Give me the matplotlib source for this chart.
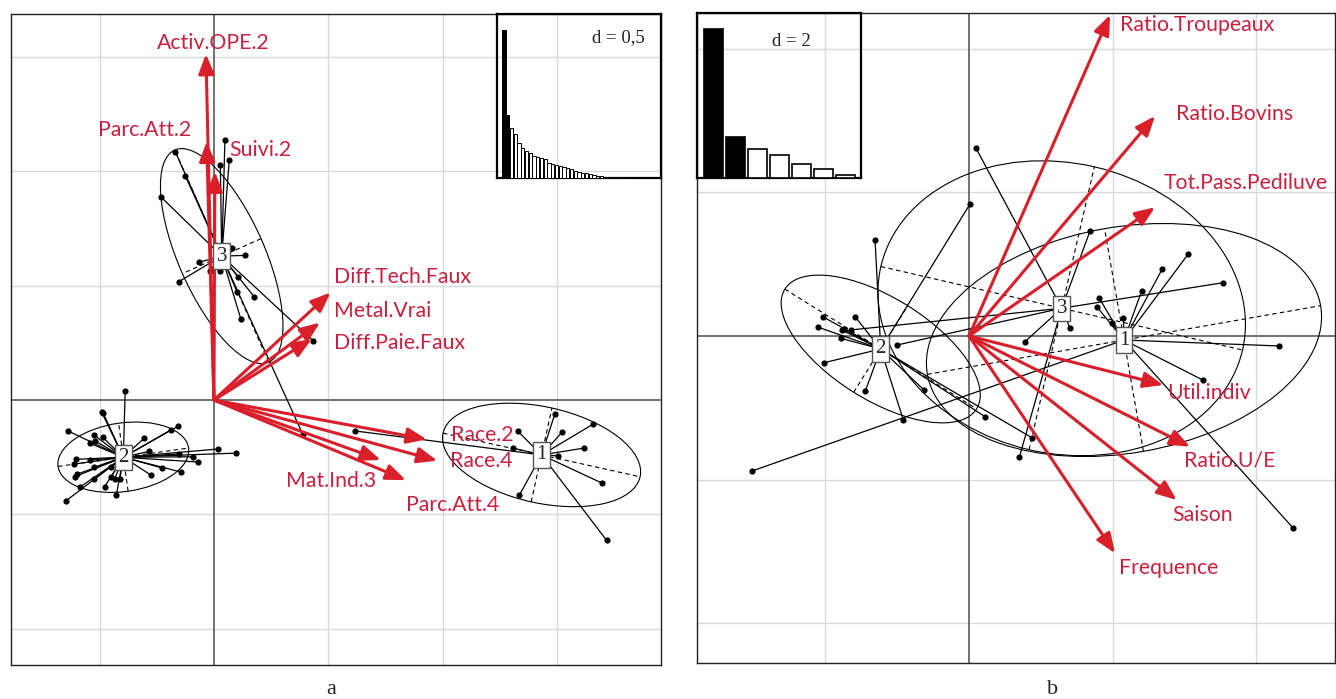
import numpy as np
import matplotlib
matplotlib.use('Agg')
import matplotlib.pyplot as plt
from matplotlib.patches import Ellipse
from matplotlib.collections import LineCollection

# ---------------- DATA : panel a ----------------
a_var_names = ["Activ.OPE.2", "Parc.Att.2", "Suivi.2", "Diff.Tech.Faux", "Metal.Vrai",
               "Diff.Paie.Faux", "Race.2", "Race.4", "Mat.Ind.3", "Parc.Att.4"]
a_var_x = [-0.035, -0.032, 0.004, 0.510, 0.463, 0.428, 0.930, 0.976, 0.729, 0.839]
a_var_y = [1.512, 1.129, 0.998, 0.470, 0.338, 0.267, -0.172, -0.265, -0.262, -0.350]

a_class_labels = ["1", "2", "3"]
a_class_x = [1.432, -0.396, 0.034]
a_class_y = [-0.240, -0.250, 0.629]
# ellipse: semi-axes and angle (deg)
a_ell_a = [0.441, 0.288, 0.507]
a_ell_b = [0.210, 0.150, 0.188]
a_ell_ang = [-12.5, 8.0, 113.9]

a_pts_x = [
    # class 1
    1.490, 1.327, 1.522, 1.658, 1.618, 1.308, 1.505, 1.696, 1.334, 1.716, 0.616,
    # class 2
    -0.388, -0.490, -0.484, -0.638, -0.524, -0.519, -0.542, -0.486, -0.305, -0.189,
    -0.156, -0.283, 0.019, 0.097, -0.152, -0.090, -0.070, -0.226, -0.143, -0.274,
    -0.603, -0.612, -0.542, -0.524, -0.608, -0.600, -0.523, -0.587, -0.646, -0.478,
    -0.449, -0.434, -0.411, -0.427, -0.449,
    # class 3
    -0.169, -0.125, -0.230, -0.154, -0.066, 0.048, 0.067, 0.028, 0.080, 0.137,
    0.026, -0.017, 0.105, 0.102, 0.176, 0.118, 0.434, 0.388]
a_pts_y = [
    -0.061, -0.135, -0.140, -0.105, -0.210, -0.210, -0.244, -0.363, -0.417, -0.613, -0.135,
    0.039, -0.054, -0.057, -0.135, -0.153, -0.179, -0.189, -0.163, -0.167, -0.131,
    -0.114, -0.224, -0.214, -0.232, -0.236, -0.248, -0.271, -0.297, -0.315, -0.329,
    -0.259, -0.280, -0.262, -0.294, -0.335, -0.325, -0.345, -0.382, -0.440, -0.379,
    -0.335, -0.345, -0.345, -0.417, -0.294,
    1.085, 0.979, 0.886, 0.517, 0.602, 1.136, 1.048, 1.027, 0.664, 0.632,
    0.564, 0.565, 0.538, 0.471, 0.451, 0.353, 0.258, -0.149]
a_pts_class = [0] * 11 + [1] * 35 + [2] * 18

a_eigen = [1.48, 0.63, 0.503, 0.443, 0.353, 0.303, 0.27, 0.253, 0.22, 0.21,
           0.203, 0.193, 0.153, 0.137, 0.13, 0.12, 0.113, 0.103, 0.087, 0.07,
           0.063, 0.053, 0.047, 0.037, 0.03, 0.023, 0.02, 0.013, 0.013, 0.01,
           0.007, 0.005, 0.005, 0.004, 0.004, 0.003, 0.003, 0.002, 0.002, 0.002,
           0.001]
a_eigen_kept = 2

# ---------------- DATA : panel b ----------------
b_var_names = ["Ratio.Troupeaux", "Ratio.Bovins", "Tot.Pass.Pediluve", "Util.indiv",
               "Ratio.U/E", "Saison", "Frequence"]
b_var_x = [1.962, 2.589, 2.589, 2.704, 3.076, 2.891, 2.032]
b_var_y = [4.468, 3.062, 1.791, -0.682, -1.541, -2.283, -3.024]

b_class_labels = ["1", "2", "3"]
b_class_x = [2.157, -1.229, 1.290]
b_class_y = [-0.056, -0.181, 0.386]
b_ell_a = [2.778, 1.573, 2.583]
b_ell_b = [1.573, 0.710, 2.020]
b_ell_ang = [9.9, -32.0, -13.0]

b_pts_x = [
    1.809, 1.777, 1.986, 2.148, 2.404, 2.690, 3.052, 4.319, 3.253, 4.514, -3.020,
    -2.036, -2.097, -1.772, -1.740, -1.786, -1.587, -1.308, 0.014, -2.018, -1.443,
    -0.914, -0.626, 0.223, 0.873,
    0.093, 1.684, 1.406, 3.539, 0.779, 0.700, -1.646, -0.998]
b_pts_y = [
    0.533, 0.408, 0.185, 0.255, 0.630, 0.933, 1.141, -0.139, -0.612, -2.676, -1.879,
    0.269, 0.121, 0.084, 0.093, -0.032, 0.269, 1.336, 1.837, -0.372, -0.765,
    -1.169, -0.752, -1.123, -1.415,
    2.621, 1.461, 0.107, 0.742, -0.079, -1.688, 0.084, -0.125]
b_pts_class = [0] * 11 + [1] * 14 + [2] * 8

b_eigen = [15.0, 4.1, 2.87, 2.27, 1.37, 0.87, 0.27]
b_eigen_kept = 2

# ---------------- LAYOUT / STYLE ----------------
W, H = 1336, 699
fig = plt.figure(figsize=(W / 100, H / 100), dpi=100)

ARROW_C = '#d81f2a'
TEXT_C = '#c8203f'
LAB_FONT = ['Lato', 'DejaVu Sans']
SERIF = ['Liberation Serif', 'DejaVu Serif']


def px_axes(l, t, r, b):
    return fig.add_axes([l / W, 1 - b / H, (r - l) / W, (b - t) / H])


def biplot(ax, xlim, ylim, step, names, vx, vy, lab_pos, cx, cy, clabs,
           ea, eb, eang, px, py, pc):
    ax.set_xlim(*xlim)
    ax.set_ylim(*ylim)
    ax.set_xticks([]); ax.set_yticks([])
    for s in ax.spines.values():
        s.set_color('#222222'); s.set_linewidth(1.0)
    # grid
    for g in np.arange(np.ceil(xlim[0] / step) * step, xlim[1], step):
        if abs(g) > 1e-9:
            ax.axvline(g, color='#d9d9d9', lw=1.0, zorder=0)
    for g in np.arange(np.ceil(ylim[0] / step) * step, ylim[1], step):
        if abs(g) > 1e-9:
            ax.axhline(g, color='#d9d9d9', lw=1.0, zorder=0)
    ax.axvline(0, color='#5a5a5a', lw=1.2, zorder=1)
    ax.axhline(0, color='#5a5a5a', lw=1.2, zorder=1)
    # ellipses + axes
    for k in range(len(cx)):
        e = Ellipse((cx[k], cy[k]), 2 * ea[k], 2 * eb[k], angle=eang[k],
                    fill=False, ec='black', lw=0.8, zorder=2)
        ax.add_patch(e)
        t = np.deg2rad(eang[k])
        ux, uy = np.cos(t), np.sin(t)
        ax.plot([cx[k] - ea[k] * ux, cx[k] + ea[k] * ux],
                [cy[k] - ea[k] * uy, cy[k] + ea[k] * uy],
                color='black', lw=0.8, ls=(0, (4, 3)), zorder=2)
        ax.plot([cx[k] + eb[k] * uy, cx[k] - eb[k] * uy],
                [cy[k] - eb[k] * ux, cy[k] + eb[k] * ux],
                color='black', lw=0.8, ls=(0, (4, 3)), zorder=2)
    # star lines
    segs = [[(cx[c], cy[c]), (x, y)] for x, y, c in zip(px, py, pc)]
    ax.add_collection(LineCollection(segs, colors='black', lw=0.9, zorder=3))
    ax.scatter(px, py, s=20, color='black', zorder=4, linewidths=0)
    # arrows
    for x, y in zip(vx, vy):
        ax.annotate('', xy=(x, y), xytext=(0, 0),
                    arrowprops=dict(arrowstyle='-|>,head_length=0.6,head_width=0.24',
                                    color=ARROW_C, lw=2.2, mutation_scale=20,
                                    shrinkA=0, shrinkB=0), zorder=5)
    # class boxes
    for x, y, l in zip(cx, cy, clabs):
        ax.text(x, y, l, ha='center', va='center', fontsize=15, family=SERIF,
                color='#222222', zorder=6,
                bbox=dict(boxstyle='square,pad=0.15', fc='white', ec='#555555', lw=1.0))
    # variable labels
    for n, (lx, ly) in zip(names, lab_pos):
        ax.text(lx, ly, n, ha='center', va='center', fontsize=15.3,
                family=LAB_FONT, color=TEXT_C, zorder=7)


def eigen_inset(rect, vals, kept):
    ax = px_axes(*rect)
    ax.patch.set_alpha(0)
    n = len(vals)
    slot = (rect[2] - rect[0] - 10.5) / n
    pad = 5.2 / slot
    ax.bar(range(n), vals, width=0.86,
           color=['black' if i < kept else 'white' for i in range(n)],
           edgecolor='black', lw=0.7 if n > 10 else 1.2, zorder=3)
    ax.set_xlim(-0.5 - pad, n - 0.5 + pad)
    ax.set_ylim(0, max(vals) / 0.905)
    ax.set_xticks([]); ax.set_yticks([])
    for s in ax.spines.values():
        s.set_color('black'); s.set_linewidth(1.6)
    return ax


# label positions (layout only)
a_lab_pos = [(-0.004, 1.562), (-0.302, 1.180), (0.201, 1.093), (0.822, 0.538),
             (0.739, 0.389), (0.813, 0.249), (1.171, -0.153), (1.167, -0.267),
             (0.511, -0.354), (1.045, -0.459)]
b_lab_pos = [(3.173, 4.328), (3.693, 3.086), (3.848, 2.125), (3.345, -0.797),
             (3.626, -1.726), (3.254, -2.491), (2.774, -3.225)]

axA = px_axes(11, 14, 661, 665)
biplot(axA, (-0.887, 1.954), (-1.158, 1.687), 0.5, a_var_names, a_var_x, a_var_y,
       a_lab_pos, a_class_x, a_class_y, a_class_labels, a_ell_a, a_ell_b, a_ell_ang,
       a_pts_x, a_pts_y, a_pts_class)

axB = px_axes(697.3, 13.3, 1335, 662.7)
biplot(axB, (-3.782, 5.094), (-4.547, 4.491), 2.0, b_var_names, b_var_x, b_var_y,
       b_lab_pos, b_class_x, b_class_y, b_class_labels, b_ell_a, b_ell_b, b_ell_ang,
       b_pts_x, b_pts_y, b_pts_class)

eigen_inset((497, 14, 661, 178), a_eigen, a_eigen_kept)
eigen_inset((697.3, 13.3, 861.3, 177.7), b_eigen, b_eigen_kept)


def ftext(x, y, s, **kw):
    fig.text(x / W, 1 - y / H, s, **kw)


ftext(645, 38, 'd = 0,5', ha='right', va='center', fontsize=13.5, family=SERIF, color='#222222')
ftext(791, 42, 'd = 2', ha='center', va='center', fontsize=13.5, family=SERIF, color='#222222')
ftext(331, 689, 'a', ha='center', va='center', fontsize=16, family=SERIF, color='#222222')
ftext(1053, 689, 'b', ha='center', va='center', fontsize=16, family=SERIF, color='#222222')

fig.savefig('out.png', dpi=100)
